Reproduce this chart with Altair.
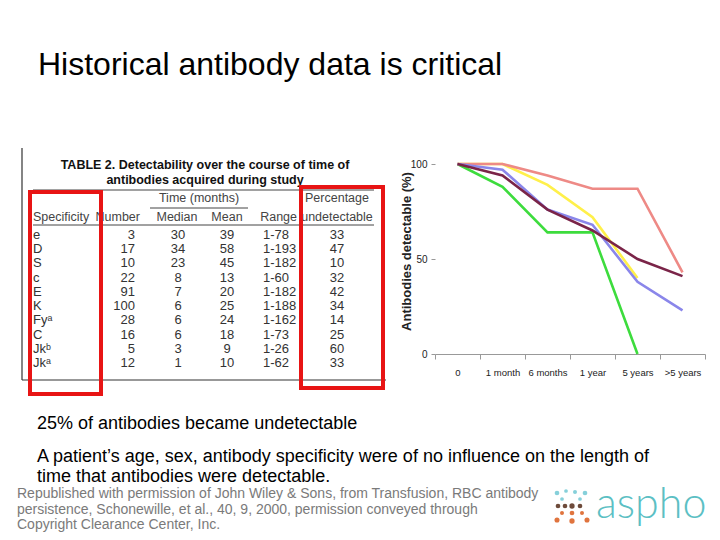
import altair as alt
import pandas as pd

# ---------------- line chart data ----------------
periods = ["0", "1 month", "6 months", "1 year", "5 years", ">5 years"]
series_names = ["Series A", "Series B", "Series C", "Series D", "Series E"]
series_colors = ["#3ddc3d", "#fff04a", "#ee8a86", "#8a86ea", "#7a2448"]
vals_a = [100, 88, 64, 64, 0]
vals_b = [100, 100, 89, 72, 40]
vals_c = [100, 100, 94, 87, 87, 43]
vals_d = [100, 97, 76, 68, 38, 23]
vals_e = [100, 94, 76, 65, 50, 41]

# ---------------- table data ----------------
specs = ["e", "D", "S", "c", "E", "K", "Fyᵃ", "C", "Jkᵇ", "Jkᵃ"]
numbers = ["3", "17", "10", "22", "91", "100", "28", "16", "5", "12"]
medians = ["30", "34", "23", "8", "7", "6", "6", "6", "3", "1"]
means = ["39", "58", "45", "13", "20", "25", "24", "18", "9", "10"]
ranges = ["1-78", "1-193", "1-182", "1-60", "1-182", "1-188", "1-162", "1-73", "1-26", "1-62"]
pct_undetectable = ["33", "47", "10", "32", "42", "34", "14", "25", "60", "33"]

rows = []
for name, vals in zip(series_names, [vals_a, vals_b, vals_c, vals_d, vals_e]):
    for p, v in zip(periods, vals):
        rows.append({"period": p, "series": name, "value": v})
df_lines = pd.DataFrame(rows)

df_table = pd.DataFrame({
    "spec": specs, "number": numbers, "median": medians,
    "mean": means, "range": ranges, "pct": pct_undetectable,
})

# page geometry (plot area of the line chart)
PLOT_LEFT, PLOT_TOP, PLOT_W, PLOT_H = 435, 164, 270, 190
def px(x):
    return x - PLOT_LEFT
def py(y):
    return y - PLOT_TOP

one = pd.DataFrame({"k": [0]})
SANS = "Liberation Sans, Arial, sans-serif"

def label(text, x, y, size, color="#000000", weight="normal", align="left",
          baseline="alphabetic", font=SANS):
    return alt.Chart(one).mark_text(
        text=text, align=align, baseline=baseline, fontSize=size,
        color=color, fontWeight=weight, font=font
    ).encode(x=alt.value(px(x)), y=alt.value(py(y)))

def hline(x1, x2, y, color="#222222", w=1.0):
    return alt.Chart(one).mark_rule(color=color, strokeWidth=w).encode(
        x=alt.value(px(x1)), x2=alt.value(px(x2)), y=alt.value(py(y)))

def vline(x, y1, y2, color="#222222", w=1.0):
    return alt.Chart(one).mark_rule(color=color, strokeWidth=w).encode(
        x=alt.value(px(x)), y=alt.value(py(y1)), y2=alt.value(py(y2)))

def box(x1, y1, x2, y2, color="#e81414", w=4):
    return alt.Chart(one).mark_rect(fillOpacity=0, stroke=color, strokeWidth=w).encode(
        x=alt.value(px(x1)), x2=alt.value(px(x2)), y=alt.value(py(y1)), y2=alt.value(py(y2)))

layers = []

# ---------------- slide texts ----------------
layers.append(label("Historical antibody data is critical", 38, 75, 32))
layers.append(label("25% of antibodies became undetectable", 37, 429, 18))
layers.append(label("A patient’s age, sex, antibody specificity were of no influence on the length of", 37, 462, 18))
layers.append(label("time that antibodies were detectable.", 37, 482, 18))
grey = "#7a7a7a"
layers.append(label("Republished with permission of John Wiley & Sons, from Transfusion, RBC antibody", 17, 498, 14, grey))
layers.append(label("persistence, Schonewille, et al., 40, 9, 2000, permission conveyed through", 17, 513.5, 14, grey))
layers.append(label("Copyright Clearance Center, Inc.", 17, 529, 14, grey))

# ---------------- logo ----------------
layers.append(label("aspho", 596, 518, 43, "#5cbfc4", weight=300, font="Lato, Open Sans, sans-serif"))
logo_dots = [
    (557, 493, "#86d0da", 22), (566, 491, "#86d0da", 14), (575, 492, "#86d0da", 16), (585, 493, "#86d0da", 22),
    (562, 499, "#86d0da", 14), (580, 499, "#86d0da", 14),
    (558, 506, "#6e4b3b", 22), (565, 506, "#6e4b3b", 22), (572, 506, "#6e4b3b", 28), (580, 506, "#6e4b3b", 22),
    (562, 513, "#e0743e", 16), (572, 513, "#e0743e", 22), (582, 513, "#e0743e", 16),
    (557, 520, "#e0743e", 26), (572, 521, "#e0743e", 28), (587, 520, "#e0743e", 26),
]
for (dx, dy, dc, ds) in logo_dots:
    layers.append(alt.Chart(one).mark_circle(color=dc, opacity=1, size=ds).encode(
        x=alt.value(px(dx)), y=alt.value(py(dy))))

# ---------------- table frame ----------------
layers.append(vline(22, 148, 380, "#333333", 1.2))
layers.append(hline(22, 386, 380, "#333333", 1.2))
layers.append(label("TABLE 2. Detectability over the course of time of", 205, 165, 12.5, "#111111", "bold", "center", "middle"))
layers.append(label("antibodies acquired during study", 205, 179.5, 12.5, "#111111", "bold", "center", "middle"))
layers.append(hline(33, 374, 190, "#444444", 1))
layers.append(hline(150, 248, 208, "#444444", 1))
layers.append(hline(33, 374, 225, "#444444", 1))
hdr = "#444444"
layers.append(label("Time (months)", 199, 198, 12.5, hdr, align="center", baseline="middle"))
layers.append(label("Percentage", 337, 198, 12.5, hdr, align="center", baseline="middle"))
layers.append(label("Specificity", 33, 217, 12.5, hdr, baseline="middle"))
layers.append(label("Number", 140, 217, 12.5, hdr, align="right", baseline="middle"))
layers.append(label("Median", 177, 217, 12.5, hdr, align="center", baseline="middle"))
layers.append(label("Mean", 227, 217, 12.5, hdr, align="center", baseline="middle"))
layers.append(label("Range", 297, 217, 12.5, hdr, align="right", baseline="middle"))
layers.append(label("undetectable", 337, 217, 12.5, hdr, align="center", baseline="middle"))

row_y = alt.Y("spec:N", scale=alt.Scale(type="point", domain=specs,
                                        range=[py(235), py(363)], padding=0), axis=None)
table_cols = [("spec", 33, "left"), ("number", 135, "right"), ("median", 178, "center"),
              ("mean", 227, "center"), ("range", 263, "left"), ("pct", 337, "center")]
for field, cx, al in table_cols:
    layers.append(alt.Chart(df_table).mark_text(
        align=al, baseline="middle", fontSize=13, color="#333333", font=SANS
    ).encode(x=alt.value(px(cx)), y=row_y, text=f"{field}:N"))

# red highlight boxes
layers.append(box(30, 192, 101, 394))
layers.append(box(301, 187, 383, 388))

# ---------------- line chart ----------------
lines = alt.Chart(df_lines).mark_line(strokeWidth=2.6).encode(
    x=alt.X("period:N", sort=periods, bandPosition=0.5,
            scale=alt.Scale(type="band", domain=periods, paddingInner=0, paddingOuter=0),
            axis=alt.Axis(title=None, labelAngle=0, tickBand="extent", tickSize=5,
                          tickColor="#999999", domainColor="#999999", labelPadding=8,
                          labelFont=SANS, labelFontSize=9.5, labelColor="#222222", grid=False)),
    y=alt.Y("value:Q", scale=alt.Scale(domain=[0, 100]),
            axis=alt.Axis(values=[0, 50, 100], grid=False, domain=False, tickSize=4,
                          tickColor="#999999", labelPadding=4, labelFont=SANS, labelFontSize=10,
                          labelColor="#222222", title="Antibodies detectable (%)",
                          titleFont=SANS, titleFontSize=13, titleFontWeight="bold",
                          titleColor="#222222", titleAngle=270, titleX=-29, titleY=87,
                          titleAlign="center", titleBaseline="middle")),
    color=alt.Color("series:N", scale=alt.Scale(domain=series_names, range=series_colors), legend=None),
    detail="series:N",
)
layers.append(lines)

chart = alt.layer(*layers).resolve_scale(
    x="independent", y="independent", color="independent"
).properties(
    width=PLOT_W, height=PLOT_H,
    padding={"left": PLOT_LEFT - 8, "top": PLOT_TOP - 8,
             "right": 720 - 16 - (PLOT_LEFT - 8) - PLOT_W,
             "bottom": 540 - 16 - (PLOT_TOP - 8) - PLOT_H},
    autosize=alt.AutoSizeParams(type="none"),
    background="white",
).configure_view(strokeWidth=0)

chart.save("out.html", embed_options={"renderer": "svg", "actions": False})
